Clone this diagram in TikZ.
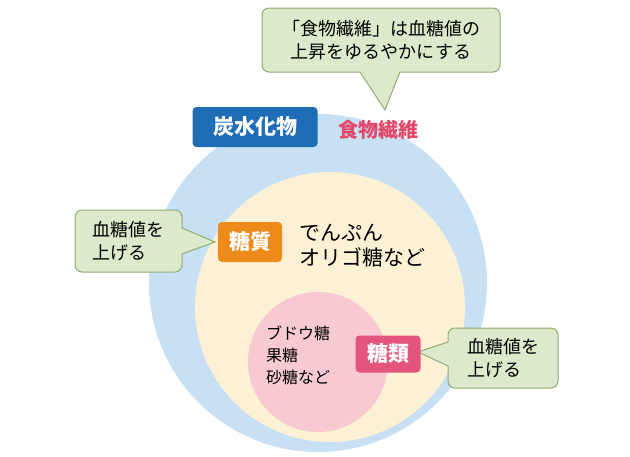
\documentclass[tikz,border=0pt]{standalone}
\usepackage{fontspec}
\setmainfont{Noto Sans CJK JP}
\definecolor{cblue}{HTML}{C7E0F3}
\definecolor{cyel}{HTML}{FDF1D5}
\definecolor{cpink}{HTML}{F7C9D1}
\definecolor{bblue}{HTML}{1F6DB6}
\definecolor{borange}{HTML}{EE8A1A}
\definecolor{bpink}{HTML}{E4557B}
\definecolor{gfill}{HTML}{DCEACB}
\definecolor{gline}{HTML}{8FAE72}
\definecolor{tred}{HTML}{E2496B}
\begin{document}
\begin{tikzpicture}[x=1pt,y=-1pt,
  lbl/.style={rounded corners=4pt,text=white,font=\fontsize{21}{23}\selectfont\bfseries,minimum height=40pt,inner xsep=6pt},
  callout/.style={fill=gfill,draw=gline,line width=1pt,rounded corners=7pt},
  txt/.style={font=\fontsize{18}{23}\selectfont,align=left}]
\useasboundingbox (0,0) rectangle (630,456);
\fill[cblue] (318,283) circle (169);
\fill[cyel] (330,307) circle (135);
\fill[cpink] (318,362) circle (70);
% top callout
\draw[callout] (262,8) rectangle (500,72);
\fill[gfill] (360,71) -- (385,110) -- (400,71) -- cycle;
\draw[gline,line width=1pt] (360,72) -- (385,110) -- (400,72);
\node[txt,align=center] (c1) at (381,40) {「食物繊維」は血糖値の\\上昇をゆるやかにする};
% left callout
\draw[callout] (75,210) rectangle (182,272);
\fill[gfill] (181,228) -- (215,242) -- (181,254) -- cycle;
\draw[gline,line width=1pt] (182,228) -- (215,242) -- (182,254);
\node[txt] (c2) at (128,241) {血糖値を\\上げる};
% right callout
\draw[callout] (448,328) rectangle (558,388);
\fill[gfill] (449,342) -- (418,352) -- (449,366) -- cycle;
\draw[gline,line width=1pt] (448,342) -- (418,352) -- (448,366);
\node[txt] (c3) at (503,358) {血糖値を\\上げる};
% labels
\node[lbl,fill=bblue,minimum width=125pt] (tan) at (255,127) {炭水化物};
\node[text=tred,font=\fontsize{20}{22}\selectfont\bfseries] (fib) at (378,130) {食物繊維};
\node[lbl,fill=borange,minimum width=64pt] (tou) at (250,242) {糖質};
\node[txt,font=\fontsize{21}{25}\selectfont] (den) at (362,246) {でんぷん\\オリゴ糖など};
\node[lbl,fill=bpink,minimum width=65pt,minimum height=37pt] (rui) at (388,354) {糖類};
\node[txt,font=\fontsize{16}{22}\selectfont] (bud) at (298,355) {ブドウ糖\\果糖\\砂糖など};
\end{tikzpicture}
\end{document}
